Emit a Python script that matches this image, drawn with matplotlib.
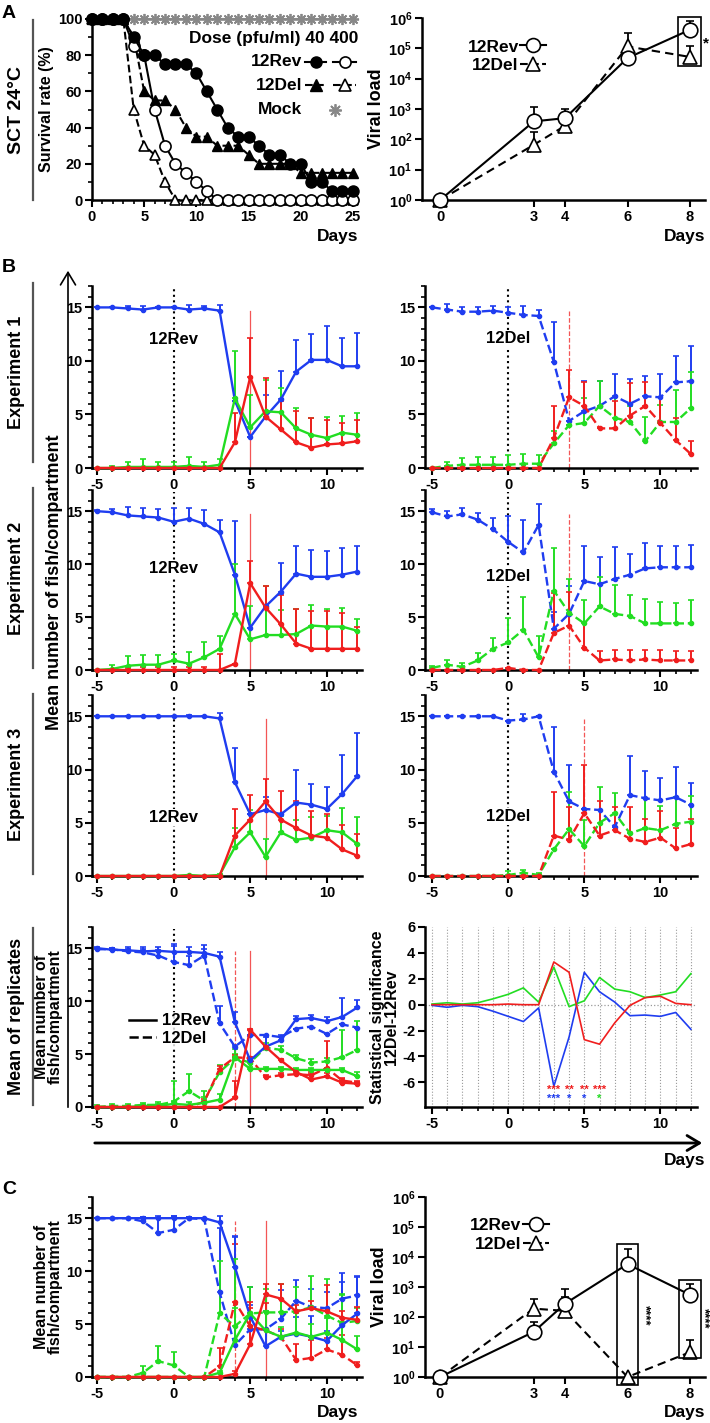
import numpy as np
import matplotlib.pyplot as plt
from matplotlib.lines import Line2D
from matplotlib.patches import Rectangle, FancyArrowPatch
from matplotlib.ticker import MultipleLocator, FixedLocator, LogLocator, LogFormatterMathtext, NullLocator

plt.rcParams['font.family'] = ['Liberation Sans', 'DejaVu Sans']
plt.rcParams['font.weight'] = 'bold'
plt.rcParams['axes.unicode_minus'] = False
plt.rcParams['mathtext.fontset'] = 'custom'
plt.rcParams['mathtext.rm'] = 'Liberation Sans:bold'
plt.rcParams['mathtext.it'] = 'Liberation Sans:bold'
plt.rcParams['mathtext.bf'] = 'Liberation Sans:bold'

# ---------------- data ----------------
# A: survival (%)
surv_days = list(range(0, 26))
rev40 = [100, 100, 100, 100, 90, 80, 80, 75, 75, 75, 70, 60, 50, 40, 35, 35, 30, 25, 25, 20, 20, 10, 10, 5, 5, 5]
del40 = [100, 100, 100, 100, 90, 60, 55, 55, 50, 40, 35, 35, 30, 30, 30, 25, 20, 20, 20, 20, 15, 15, 15, 15, 15, 15]
rev400 = [100, 100, 100, 100, 85, 80, 50, 30, 20, 15, 10, 5, 0, 0, 0, 0, 0, 0, 0, 0, 0, 0, 0, 0, 0, 0]
del400 = [100, 100, 100, 100, 50, 30, 25, 10, 0, 0, 0, 0, 0, 0, 0, 0, 0, 0, 0, 0, 0, 0, 0, 0, 0, 0]
mock = [100] * 26

# A / C: viral load
vl_days = [0, 3, 4, 6, 8]
a_rev = [1, 390, 500, 4.8e4, 4.1e5]
a_rev_top = [1, 1200, 1000, 4.8e4, 8e5]
a_del = [1, 66, 280, 1.15e5, 5.2e4]
a_del_top = [1, 170, 280, 3.1e5, 1.15e5]
c_rev = [1, 32, 277, 5800, 550]
c_rev_top = [1, 66, 830, 18000, 1260]
c_del = [1, 190, 160, 1, 6.7]
c_del_top = [1, 390, 460, 1, 17]

# B / C: fish per compartment, days -5..12
DAYS = list(range(-5, 13))

e1r_blue = [15, 15, 14.9, 14.8, 15, 15, 14.8, 14.9, 14.7, 6.3, 2.9, 4.8, 6.4, 9.0, 10.1, 10.1, 9.5, 9.5]
e1r_blue_top = [15, 15, 15.1, 15.1, 15, 15, 15.2, 15.1, 15.2, 6.3, 2.9, 6.8, 9.1, 12.0, 12.5, 13.3, 12.1, 12.6]
e1r_green = [0, 0, 0.1, 0.1, 0.1, 0.1, 0.2, 0.1, 0.3, 6.5, 3.8, 5.3, 5.2, 3.7, 3.1, 2.8, 3.3, 3.1]
e1r_green_top = [0, 0.2, 0.6, 0.8, 0.6, 0.6, 1.0, 0.6, 0.8, 10.9, 6.8, 8.2, 7.5, 5.6, 4.7, 4.8, 4.9, 5.1]
e1r_red = [0, 0, 0, 0, 0, 0, 0, 0, 0, 2.4, 8.5, 4.8, 3.6, 2.4, 1.9, 2.2, 2.3, 2.5]
e1r_red_top = [0, 0, 0, 0, 0, 0, 0, 0, 0, 5.1, 12.1, 8.4, 6.3, 5.3, 4.7, 4.5, 4.2, 4.5]

e1d_blue = [15, 14.8, 14.6, 14.6, 14.7, 14.5, 14.3, 14.2, 9.9, 4.4, 5.3, 5.8, 6.7, 6.0, 6.7, 6.6, 8.0, 8.1]
e1d_blue_top = [15, 15.3, 15.0, 15.0, 15.1, 15.0, 15.1, 14.8, 13.6, 4.4, 8.1, 8.1, 8.8, 8.3, 8.6, 8.8, 10.5, 11.4]
e1d_green = [0, 0.2, 0.3, 0.3, 0.3, 0.3, 0.4, 0.4, 2.3, 4.0, 4.2, 5.8, 4.7, 4.3, 2.5, 4.3, 4.3, 5.6]
e1d_green_top = [0, 0.6, 0.9, 1.0, 1.0, 1.2, 1.3, 1.2, 3.5, 4.0, 6.5, 8.1, 6.6, 5.8, 4.8, 5.9, 7.3, 9.0]
e1d_red = [0, 0, 0, 0, 0, 0, 0, 0, 2.8, 6.6, 5.8, 3.7, 3.7, 4.9, 5.8, 4.2, 2.6, 1.3]
e1d_red_top = [0, 0, 0, 0, 0, 0, 0, 0, 5.8, 9.2, 8.0, 3.7, 6.3, 7.9, 8.0, 6.6, 4.7, 2.5]

e2r_blue = [15, 14.9, 14.6, 14.5, 14.4, 14.0, 14.3, 13.8, 13.0, 9.0, 4.0, 6.0, 7.4, 9.1, 8.8, 8.8, 9.0, 9.3]
e2r_blue_top = [15.1, 15.2, 15.4, 15.3, 15.2, 15.3, 15.3, 15.1, 14.2, 14.1, 4.0, 6.0, 10.1, 11.7, 11.3, 11.2, 11.5, 11.7]
e2r_green = [0, 0.1, 0.4, 0.5, 0.5, 0.9, 0.6, 1.2, 2.0, 5.3, 2.9, 3.3, 3.3, 3.4, 4.2, 4.1, 4.1, 3.7]
e2r_green_top = [0, 0.5, 1.3, 1.4, 1.4, 1.5, 1.7, 2.6, 3.2, 10.0, 6.0, 7.9, 5.7, 5.8, 6.1, 5.8, 5.9, 4.8]
e2r_red = [0, 0, 0, 0, 0, 0, 0, 0, 0, 0.6, 8.2, 5.9, 4.3, 2.5, 2.0, 2.0, 2.0, 2.0]
e2r_red_top = [0, 0, 0.2, 0.3, 0.3, 0.3, 0.3, 0.3, 1.5, 0.6, 10.3, 7.9, 7.1, 5.8, 5.6, 5.6, 5.4, 4.1]

e2d_blue = [14.9, 14.5, 14.7, 14.2, 13.3, 12.1, 11.1, 13.7, 3.9, 5.3, 8.4, 8.1, 8.6, 9.0, 9.6, 9.7, 9.7, 9.7]
e2d_blue_top = [15.2, 15.0, 15.3, 14.8, 14.4, 14.5, 14.2, 15.7, 5.5, 7.9, 11.7, 10.7, 11.6, 11.0, 12.0, 11.7, 11.7, 11.8]
e2d_green = [0.2, 0.5, 0.3, 0.9, 2.0, 2.6, 3.8, 1.2, 7.5, 5.4, 4.4, 6.0, 5.3, 5.1, 4.4, 4.4, 4.4, 4.4]
e2d_green_top = [0.4, 0.9, 0.7, 1.6, 3.0, 4.9, 6.9, 3.2, 11.5, 8.6, 6.6, 8.8, 8.0, 7.1, 6.7, 6.4, 6.3, 6.6]
e2d_red = [0, 0, 0, 0, 0, 0.2, 0, 0, 3.5, 4.2, 2.1, 0.9, 1.0, 0.9, 1.0, 0.9, 0.9, 0.9]
e2d_red_top = [0, 0, 0, 0, 0, 0.2, 0, 0, 7.3, 7.4, 4.5, 1.8, 1.9, 1.9, 1.9, 1.9, 1.8, 1.8]

e3r_blue = [15, 15, 15, 15, 15, 15, 15, 15, 14.8, 8.8, 5.8, 6.2, 5.8, 6.9, 6.7, 6.3, 7.7, 9.4]
e3r_blue_top = [15, 15, 15, 15, 15, 15, 15.1, 15, 15.3, 12.0, 5.8, 7.4, 5.8, 10.0, 8.6, 8.4, 11.4, 13.4]
e3r_green = [0, 0, 0, 0, 0, 0, 0.1, 0, 0.1, 2.7, 4.1, 1.8, 4.1, 3.4, 3.6, 4.3, 4.1, 3.0]
e3r_green_top = [0, 0, 0, 0, 0, 0, 0.1, 0, 0.2, 4.5, 6.2, 3.5, 5.6, 5.3, 5.5, 5.6, 6.4, 5.5]
e3r_red = [0, 0, 0, 0, 0, 0, 0, 0, 0, 3.8, 5.3, 7.0, 5.3, 4.5, 3.8, 3.6, 2.5, 1.9]
e3r_red_top = [0, 0, 0, 0, 0, 0, 0, 0, 0, 6.3, 7.6, 9.1, 8.0, 7.0, 6.1, 5.8, 4.8, 3.9]

e3d_blue = [15, 15, 15, 15, 15, 14.6, 14.7, 15.0, 9.8, 7.0, 6.3, 6.2, 4.6, 7.6, 7.3, 7.1, 7.4, 6.7]
e3d_blue_top = [15, 15, 15, 15, 15, 14.6, 15.2, 15.0, 14.0, 10.4, 6.3, 6.2, 4.6, 11.3, 9.9, 9.2, 10.2, 8.7]
e3d_green = [0, 0, 0, 0, 0, 0.1, 0.3, 0.1, 2.5, 4.4, 2.8, 5.0, 5.9, 4.0, 4.5, 4.3, 4.9, 5.1]
e3d_green_top = [0, 0, 0, 0, 0, 0.5, 0.6, 0.3, 2.5, 7.9, 5.3, 8.4, 7.8, 4.0, 7.3, 6.6, 7.4, 7.5]
e3d_red = [0, 0, 0, 0, 0, 0, 0, 0, 3.8, 3.4, 5.9, 3.8, 4.3, 3.5, 3.2, 3.6, 2.6, 3.0]
e3d_red_top = [0, 0, 0, 0, 0, 0, 0, 0, 7.9, 6.5, 10.4, 7.0, 6.5, 6.5, 5.4, 6.1, 4.5, 5.4]

mr_blue = [15, 14.85, 14.8, 14.7, 14.75, 14.65, 14.65, 14.55, 14.2, 8.0, 4.4, 5.7, 6.3, 8.3, 8.4, 8.1, 8.5, 9.4]
mr_blue_top = [15.1, 15.0, 15.1, 15.1, 15.1, 15.4, 15.1, 15.3, 14.6, 9.0, 4.4, 6.6, 6.8, 8.6, 8.7, 8.5, 10.3, 10.1]
mr_green = [0, 0, 0, 0.1, 0.1, 0.3, 0.2, 0.4, 0.7, 4.7, 3.6, 3.6, 3.6, 3.5, 3.5, 3.5, 3.5, 2.9]
mr_green_top = [0, 0.1, 0.1, 0.2, 0.3, 0.6, 0.5, 0.9, 1.2, 5.5, 3.8, 3.8, 3.8, 3.7, 3.7, 3.7, 3.7, 3.3]
mr_red = [0, 0, 0, 0, 0, 0, 0, 0, 0, 0.9, 7.3, 5.7, 4.4, 3.3, 2.6, 2.9, 2.3, 2.2]
mr_red_top = [0, 0, 0, 0, 0, 0, 0, 0, 0, 2.5, 7.4, 5.8, 4.5, 3.4, 3.1, 3.2, 2.6, 2.4]

md_blue = [14.9, 14.9, 14.7, 14.6, 14.3, 13.7, 13.4, 14.3, 7.9, 5.7, 6.8, 6.8, 6.6, 7.4, 7.6, 6.9, 7.8, 7.5]
md_blue_top = [15.0, 15.0, 14.9, 14.9, 14.8, 15.2, 14.3, 14.9, 9.5, 5.9, 6.8, 6.8, 6.6, 7.4, 7.6, 6.9, 7.8, 7.5]
md_green = [0, 0.1, 0.1, 0.2, 0.2, 0.5, 1.5, 0.6, 3.3, 4.6, 4.2, 5.6, 5.4, 4.6, 4.2, 4.3, 4.7, 5.4]
md_green_top = [0.2, 0.3, 0.3, 0.4, 0.5, 2.5, 3.1, 1.5, 4.0, 5.0, 4.5, 6.0, 5.8, 4.9, 4.5, 4.6, 7.3, 8.1]
md_red = [0, 0, 0, 0, 0, 0, 0, 0.5, 3.6, 4.7, 4.6, 2.8, 3.0, 3.1, 3.0, 3.7, 2.5, 2.3]
md_red_top = [0, 0, 0, 0, 0, 0, 0, 0.8, 3.9, 4.9, 4.7, 3.0, 3.2, 3.4, 3.3, 6.2, 2.7, 2.5]

cr_blue = [15, 15, 15, 15, 15, 15, 15, 15, 14.6, 10.4, 5.7, 2.9, 3.8, 4.1, 3.8, 3.4, 4.9, 6.0]
cr_blue_top = [15, 15, 15, 15.1, 15.2, 15.2, 15.1, 15, 15.2, 13.3, 8.5, 4.5, 4.3, 5.7, 5.8, 4.3, 9.8, 9.5]
cr_green = [0, 0, 0, 0, 0, 0, 0, 0, 0.4, 3.5, 6.0, 4.4, 3.8, 4.2, 3.8, 4.2, 3.5, 2.6]
cr_green_top = [0, 0, 0, 0, 0, 0, 0, 0, 0.6, 11.1, 8.5, 6.2, 4.7, 6.0, 5.0, 5.6, 7.8, 3.9]
cr_red = [0, 0, 0, 0, 0, 0, 0, 0, 0, 0.3, 3.1, 7.8, 7.4, 6.2, 6.5, 6.2, 5.6, 5.4]
cr_red_top = [0, 0, 0, 0, 0, 0, 0, 0, 0, 0.6, 7.1, 8.8, 8.8, 6.8, 7.2, 8.7, 6.2, 6.6]

cd_blue = [15, 15, 15, 14.7, 13.6, 13.9, 15, 14.9, 8.0, 3.0, 4.5, 4.5, 5.5, 7.2, 6.6, 6.5, 7.4, 7.7]
cd_blue_top = [15, 15, 15, 15.1, 15, 15.2, 15.1, 15, 14.1, 13.2, 6.8, 6.2, 8.2, 9.2, 8.3, 8.0, 9.0, 9.4]
cd_green = [0, 0, 0, 0.4, 1.5, 1.1, 0, 0, 6.0, 4.8, 6.0, 6.1, 6.1, 6.2, 6.6, 5.8, 5.1, 5.3]
cd_green_top = [0, 0, 0, 1.0, 2.9, 2.4, 0, 0, 11.0, 6.5, 8.5, 8.3, 8.8, 8.5, 9.5, 9.3, 7.7, 6.5]
cd_red = [0, 0, 0, 0, 0, 0, 0, 0, 1.0, 7.1, 4.8, 4.4, 3.8, 1.6, 1.8, 2.6, 2.1, 1.1]
cd_red_top = [0, 0, 0, 0, 0, 0, 0, 0, 2.7, 12.6, 6.5, 7.0, 4.5, 3.1, 3.5, 3.7, 4.0, 1.4]

# B: statistical significance 12Del-12Rev
st_blue = [-0.05, -0.2, -0.05, -0.15, -0.5, -0.9, -1.3, -0.25, -6.3, -2.5, 2.5, 1.0, 0.2, -0.85, -0.8, -0.9, -0.6, -1.9]
st_green = [0.05, 0.15, 0.05, 0.15, 0.45, 0.8, 1.3, 0.2, 2.9, -0.15, 0.3, 2.1, 1.2, 1.0, 0.55, 0.75, 1.0, 2.4]
st_red = [0, 0, 0, 0, 0, 0.05, 0, 0, 3.3, 2.5, -2.7, -3.05, -1.4, -0.05, 0.55, 0.65, 0.1, 0]
# significance stars: (day, text, colour key, row)
stars = [(3, '***', 'r', 0), (4, '**', 'r', 0), (5, '**', 'r', 0), (6, '***', 'r', 0),
         (3, '***', 'b', 1), (4, '*', 'b', 1), (5, '*', 'b', 1), (6, '*', 'g', 1)]

BLUE = '#1f3df0'
GREEN = '#22dd22'
RED = '#f01e1e'
COL = {'b': BLUE, 'g': GREEN, 'r': RED}

# ---------------- figure ----------------
W, H = 710, 1423
fig = plt.figure(figsize=(W / 100, H / 100), dpi=100)


def fx(x):
    return x / W


def fy(y):
    return 1 - y / H


def px_axes(l, t, r, b):
    return fig.add_axes([l / W, 1 - b / H, (r - l) / W, (b - t) / H])


def fig_line(xs, ys, **kw):
    fig.add_artist(Line2D([fx(x) for x in xs], [fy(y) for y in ys], transform=fig.transFigure, **kw))


def base_style(ax):
    for s in ['top', 'right']:
        ax.spines[s].set_visible(False)
    for s in ['left', 'bottom']:
        ax.spines[s].set_linewidth(1.8)
    ax.tick_params(which='major', length=5, width=1.5, labelsize=10.5, pad=2)
    ax.tick_params(which='minor', length=3, width=1.2)
    for lab in ax.get_xticklabels() + ax.get_yticklabels():
        lab.set_fontweight('bold')


def comp_panel(ax, series, ls, vday, xlim, label=None, label_y=None, dotted=True):
    for color, vals, tops in series:
        vals = np.array(vals, float)
        tops = np.array(tops, float)
        up = np.clip(tops - vals, 0, None)
        ax.errorbar(DAYS, vals, yerr=[np.zeros_like(vals), up], color=color, lw=1.7,
                    ls=ls, marker='o', ms=3, capsize=2, elinewidth=1.4, capthick=1.2,
                    clip_on=False, zorder=3)
    ax.plot([vday, vday], [0, 14.7], color=RED, lw=0.9, ls=ls, alpha=0.75, zorder=2)
    if dotted:
        ax.plot([0, 0], [0, 16.8], color='k', ls=':', lw=1.5, zorder=1)
    if label:
        ax.text(0, label_y, label, ha='center', va='center', fontsize=12, fontweight='bold',
                bbox=dict(facecolor='white', edgecolor='none', pad=1), zorder=2)
    ax.set_xlim(*xlim)
    ax.set_ylim(0, 17)
    ax.xaxis.set_major_locator(MultipleLocator(5))
    ax.xaxis.set_minor_locator(MultipleLocator(1))
    ax.yaxis.set_major_locator(FixedLocator([0, 5, 10, 15]))
    ax.yaxis.set_minor_locator(MultipleLocator(1))
    base_style(ax)


XL = (-5.33, 12.3)
XR = (-5.46, 12.4)

rows = [(286, 468), (490, 670), (695, 876)]
exp_data = [
    ((e1r_blue, e1r_blue_top, e1r_green, e1r_green_top, e1r_red, e1r_red_top), 5, 12.0,
     (e1d_blue, e1d_blue_top, e1d_green, e1d_green_top, e1d_red, e1d_red_top), 4, 12.1),
    ((e2r_blue, e2r_blue_top, e2r_green, e2r_green_top, e2r_red, e2r_red_top), 5, 9.6,
     (e2d_blue, e2d_blue_top, e2d_green, e2d_green_top, e2d_red, e2d_red_top), 4, 8.8),
    ((e3r_blue, e3r_blue_top, e3r_green, e3r_green_top, e3r_red, e3r_red_top), 6, 5.5,
     (e3d_blue, e3d_blue_top, e3d_green, e3d_green_top, e3d_red, e3d_red_top), 5, 5.6),
]

for (t, b), (rd, rv, ry, dd, dv, dy) in zip(rows, exp_data):
    ax = px_axes(92, t, 362, b)
    comp_panel(ax, [(BLUE, rd[0], rd[1]), (GREEN, rd[2], rd[3]), (RED, rd[4], rd[5])],
               '-', rv, XL, '12Rev', ry)
    ax = px_axes(425, t, 697, b)
    comp_panel(ax, [(BLUE, dd[0], dd[1]), (GREEN, dd[2], dd[3]), (RED, dd[4], dd[5])],
               '--', dv, XR, '12Del', dy)

# mean of replicates
ax = px_axes(92, 927, 362, 1107)
comp_panel(ax, [(BLUE, md_blue, md_blue_top), (GREEN, md_green, md_green_top), (RED, md_red, md_red_top)],
           '--', 4, XL)
comp_panel(ax, [(BLUE, mr_blue, mr_blue_top), (GREEN, mr_green, mr_green_top), (RED, mr_red, mr_red_top)],
           '-', 5, XL, dotted=False)
leg = ax.legend([Line2D([], [], color='k', lw=1.8), Line2D([], [], color='k', lw=1.8, ls='--')],
                ['12Rev', '12Del'], loc='center left', bbox_to_anchor=(0.1, 0.43), frameon=True,
                fontsize=12, handlelength=1.6, handletextpad=0.4, borderpad=0.1, labelspacing=0.15)
leg.get_frame().set_edgecolor('none')
for txt in leg.get_texts():
    txt.set_fontweight('bold')
ax.set_ylabel('Mean number of\nfish/compartment', fontsize=11.5, fontweight='bold', labelpad=2,
              linespacing=0.9)

# statistical significance
ax = px_axes(425, 927, 697, 1107)
for d in DAYS:
    ax.axvline(d, color='#999999', ls=':', lw=0.8, zorder=0)
ax.axhline(0, color='#999999', ls=':', lw=0.9, zorder=0)
ax.plot(DAYS, st_blue, color=BLUE, lw=1.2)
ax.plot(DAYS, st_green, color=GREEN, lw=1.2)
ax.plot(DAYS, st_red, color=RED, lw=1.2)
for d, s, c, row in stars:
    ax.text(d, -6.55 - 0.75 * row, s, color=COL[c], ha='center', va='center', fontsize=8,
            fontweight='bold')
ax.set_xlim(*XR)
ax.set_ylim(-7.9, 6)
ax.xaxis.set_major_locator(MultipleLocator(5))
ax.xaxis.set_minor_locator(MultipleLocator(1))
ax.yaxis.set_major_locator(FixedLocator([-6, -4, -2, 0, 2, 4, 6]))
base_style(ax)
ax.set_ylabel('Statistical significance\n12Del-12Rev', fontsize=11.5, fontweight='bold',
              labelpad=2, linespacing=0.95)

# C left
ax = px_axes(92, 1197, 362, 1377)
comp_panel(ax, [(BLUE, cd_blue, cd_blue_top), (GREEN, cd_green, cd_green_top), (RED, cd_red, cd_red_top)],
           '--', 4, XL, dotted=False)
comp_panel(ax, [(BLUE, cr_blue, cr_blue_top), (GREEN, cr_green, cr_green_top), (RED, cr_red, cr_red_top)],
           '-', 6, XL, dotted=False)
ax.set_ylabel('Mean number of\nfish/compartment', fontsize=11.5, fontweight='bold', labelpad=2,
              linespacing=0.9)

# ---------------- A left: survival ----------------
ax = px_axes(92, 19, 356, 200)
ax.plot(surv_days, mock, color='#888888', lw=1.5, marker=(8, 2, 0), ms=8, mew=1.3, clip_on=False, zorder=2)
ax.plot(surv_days, del40, color='k', lw=1.5, ls='--', marker='^', ms=7.5, clip_on=False, zorder=3)
ax.plot(surv_days, del400, color='k', lw=1.5, ls='--', marker='^', ms=7.5, mfc='white', mew=1.2,
        clip_on=False, zorder=3)
ax.plot(surv_days, rev400, color='k', lw=1.5, marker='o', ms=8, mfc='white', mew=1.2,
        clip_on=False, zorder=4)
ax.plot(surv_days, rev40, color='k', lw=1.5, marker='o', ms=8, clip_on=False, zorder=4)
ax.set_xlim(0, 25.3)
ax.set_ylim(0, 100)
ax.xaxis.set_major_locator(MultipleLocator(5))
ax.xaxis.set_minor_locator(MultipleLocator(1))
ax.yaxis.set_major_locator(MultipleLocator(20))
ax.yaxis.set_minor_locator(MultipleLocator(10))
base_style(ax)
ax.set_ylabel('Survival rate (%)', fontsize=11.5, fontweight='bold', labelpad=3)

fig.text(fx(358), fy(38), 'Dose (pfu/ml) 40 400', fontsize=12.5, fontweight='bold', va='center',
         ha='right')
for y, name, ls, mk in [(62, '12Rev', '-', 'o'), (85, '12Del', '--', '^')]:
    fig.text(fx(302), fy(y), name, fontsize=12.5, fontweight='bold', va='center', ha='right')
    fig_line([305, 326], [y, y], color='k', lw=1.5, ls=ls)
    fig_line([315.5], [y], color='k', marker=mk, ms=8)
    fig_line([333, 356], [y, y], color='k', lw=1.5, ls=ls)
    fig_line([344.5], [y], color='k', marker=mk, ms=8, mfc='white', mew=1.2)
fig.text(fx(302), fy(110), 'Mock', fontsize=12.5, fontweight='bold', va='center', ha='right')
fig_line([335], [110], color='#888888', marker=(8, 2, 0), ms=9, mew=1.3)


# ---------------- viral load panels ----------------
def viral_panel(ax, rev, rev_top, dele, dele_top):
    r = np.array(rev, float)
    d = np.array(dele, float)
    ax.errorbar(vl_days, d, yerr=[np.zeros_like(d), np.array(dele_top) - d], color='k', ls='--',
                lw=1.5, marker='^', ms=10.5, mfc='white', mew=1.2, capsize=3, elinewidth=1.3,
                clip_on=False, zorder=3, dashes=(4, 2.5))
    ax.errorbar(vl_days, r, yerr=[np.zeros_like(r), np.array(rev_top) - r], color='k', ls='-',
                lw=1.5, marker='o', ms=10.5, mfc='white', mew=1.2, capsize=3, elinewidth=1.3,
                clip_on=False, zorder=4)
    ax.set_yscale('log')
    ax.set_ylim(1, 1e6)
    ax.set_xlim(-0.48, 8.48)
    ax.xaxis.set_major_locator(FixedLocator(vl_days))
    ax.xaxis.set_minor_locator(NullLocator())
    ax.yaxis.set_major_locator(LogLocator(base=10, numticks=10))
    ax.yaxis.set_major_formatter(LogFormatterMathtext())
    ax.yaxis.set_minor_locator(NullLocator())
    base_style(ax)
    ax.set_ylabel('Viral load', fontsize=13, fontweight='bold', labelpad=2)
    hs = [Line2D([], [], color='k', lw=1.5, marker='o', ms=10, mfc='white', mew=1.2),
          Line2D([], [], color='k', lw=1.5, ls='--', marker='^', ms=10, mfc='white', mew=1.2)]
    leg = ax.legend(hs, ['12Rev', '12Del'], loc='upper left', bbox_to_anchor=(0.13, 0.93),
                    frameon=False, fontsize=12.5, markerfirst=False, handlelength=1.5,
                    handletextpad=0.1, labelspacing=0.2, borderpad=0)
    for txt in leg.get_texts():
        txt.set_fontweight('bold')


ax = px_axes(422, 18, 705, 200)
viral_panel(ax, a_rev, a_rev_top, a_del, a_del_top)
ax.set_xlim(-0.58, 8.48)
ax.add_patch(Rectangle((7.63, 10 ** 4.42), 0.72, 10 ** 6.03 - 10 ** 4.42, fill=False, lw=1.2,
                       ec='k', clip_on=False, zorder=5))
ax.text(8.5, 10 ** 5.15, '*', fontsize=11, fontweight='bold', ha='center', va='center')

ax = px_axes(425, 1197, 705, 1377)
viral_panel(ax, c_rev, c_rev_top, c_del, c_del_top)
ax.add_patch(Rectangle((5.66, 10 ** -0.27), 0.68, 10 ** 4.43 - 10 ** -0.27, fill=False, lw=1.2,
                       ec='k', clip_on=False, zorder=5))
ax.add_patch(Rectangle((7.65, 10 ** 0.63), 0.7, 10 ** 3.23 - 10 ** 0.63, fill=False, lw=1.2,
                       ec='k', clip_on=False, zorder=5))
ax.text(6.56, 10 ** 2.07, '****', rotation=-90, fontsize=9.5, fontweight='bold', ha='center', va='center')
ax.text(8.45, 10 ** 1.97, '****', rotation=-90, fontsize=9.5, fontweight='bold', ha='center', va='center')

# ---------------- annotations ----------------
fig.text(fx(9), fy(14), 'A', fontsize=14, fontweight='bold', ha='center', va='center')
fig.text(fx(9), fy(268), 'B', fontsize=14, fontweight='bold', ha='center', va='center')
fig.text(fx(9), fy(1189), 'C', fontsize=14, fontweight='bold', ha='center', va='center')

for x, y in [(358, 237), (705, 237), (705, 1160), (358, 1412), (705, 1412)]:
    fig.text(fx(x), fy(y), 'Days', fontsize=12.5, fontweight='bold', ha='right', va='center')

side = [('SCT 24°C', 20, 200, 14), ('Experiment 1', 283, 462, 13), ('Experiment 2', 488, 668, 13),
        ('Experiment 3', 694, 874, 13), ('Mean of replicates', 928, 1105, 13)]
for name, t, b, fs in side:
    fig_line([33, 33], [t, b], color='#555555', lw=1.6)
    fig.text(fx(17), fy((t + b) / 2), name, fontsize=fs, fontweight='bold', rotation=90,
             ha='center', va='center')

fig.text(fx(55), fy(582), 'Mean number of fish/compartment', fontsize=13, fontweight='bold',
         rotation=90, ha='center', va='center')

fig.add_artist(FancyArrowPatch((fx(68), fy(1110)), (fx(68), fy(268)), transform=fig.transFigure,
                               arrowstyle='->,head_length=0.5,head_width=0.3', mutation_scale=18,
                               lw=1.2, color='k'))
fig.add_artist(FancyArrowPatch((fx(92), fy(1143)), (fx(705), fy(1143)), transform=fig.transFigure,
                               arrowstyle='->,head_length=0.5,head_width=0.3', mutation_scale=18,
                               lw=2.0, color='k'))

fig.savefig('out.png', dpi=100)
